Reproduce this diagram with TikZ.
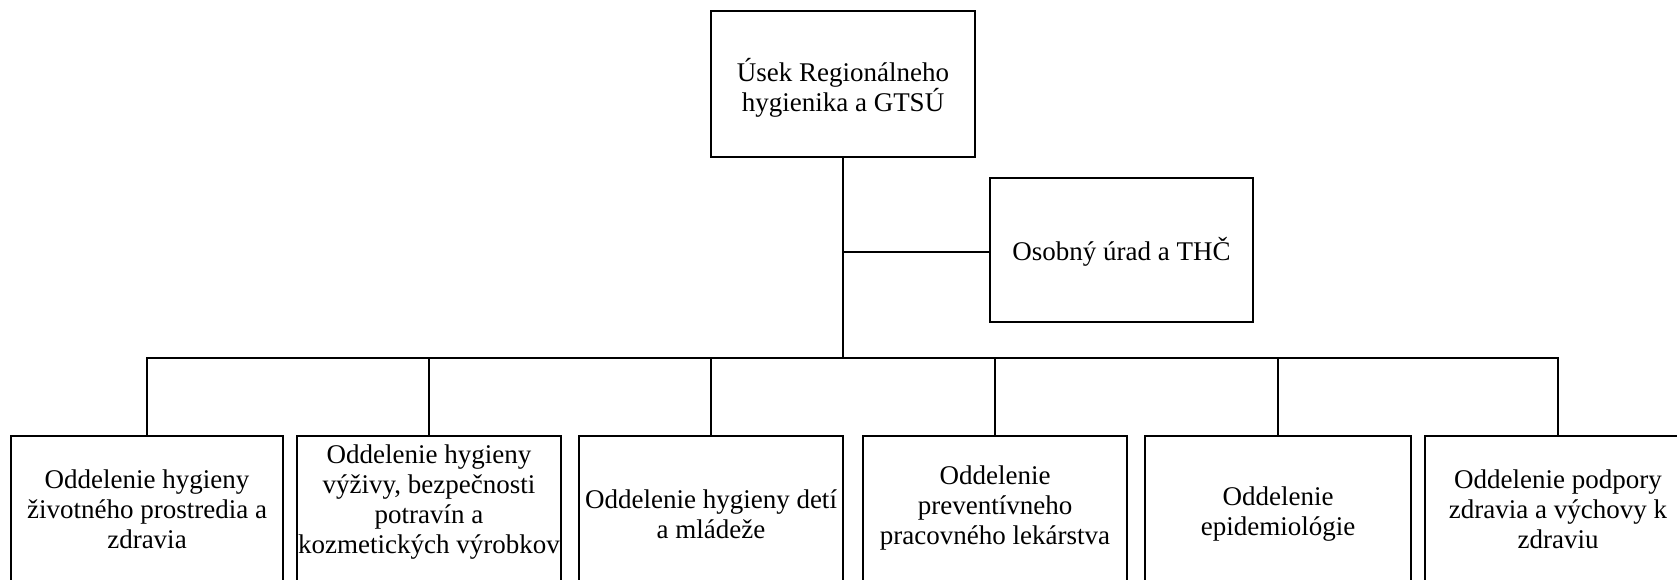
\documentclass[tikz,border=0pt]{standalone}
\usepackage{fontspec}
\setmainfont{Liberation Serif}
\begin{document}
\begin{tikzpicture}[x=1pt,y=-1pt,
  box/.style={draw,line width=2pt,minimum width=264pt,minimum height=146pt,inner sep=0pt},
  lbl/.style={align=center,font=\fontsize{27}{30}\selectfont,inner sep=0pt},
  conn/.style={line width=2pt}]
\useasboundingbox (0,0) rectangle (1677,579);
\clip (0,0) rectangle (1677,579);
% top
\node[box] (top) at (843,84) {};
\node[lbl] (toplbl) at (843,88) {Úsek Regionálneho\\hygienika a GTSÚ};
\node[box,minimum width=263pt,minimum height=144pt] (osob) at (1121.5,250) {};
\node[lbl] (osoblbl) at (1121.5,252) {Osobný úrad a THČ};
% bottom boxes
\node[box,minimum width=272pt,minimum height=148pt] (b1) at (147,510) {};
\node[box,minimum height=148pt] (b2) at (429,510) {};
\node[box,minimum height=148pt] (b3) at (711,510) {};
\node[box,minimum height=148pt] (b4) at (995,510) {};
\node[box,minimum width=266pt,minimum height=148pt] (b5) at (1278,510) {};
\node[box,minimum width=266pt,minimum height=148pt] (b6) at (1558,510) {};
\node[lbl] (l1) at (147,509) {Oddelenie hygieny\\životného prostredia a\\zdravia};
\node[lbl] (l2) at (429,502) {Oddelenie hygieny\\výživy, bezpečnosti\\potravín a\\kozmetických výrobkov};
\node[lbl] (l3) at (711,514) {Oddelenie hygieny detí\\a mládeže};
\node[lbl] (l4) at (995,508) {Oddelenie\\preventívneho\\pracovného lekárstva};
\node[lbl] (l5) at (1278,514) {Oddelenie\\epidemiológie};
\node[lbl] (l6) at (1558,509) {Oddelenie podpory\\zdravia a výchovy k\\zdraviu};
% connectors
\coordinate (bus) at (844,358);
\coordinate (j) at (844,252);
\draw[conn] (top.south) -- (top.south |- bus);
\draw[conn] (top.south |- j) -- (osob.west |- j);
\draw[conn] (b1.north) -- (b1.north |- bus) -- (b6.north |- bus) -- (b6.north);
\foreach \n in {b2,b3,b4,b5}{\draw[conn] (\n.north) -- (\n.north |- bus);}
\end{tikzpicture}
\end{document}
